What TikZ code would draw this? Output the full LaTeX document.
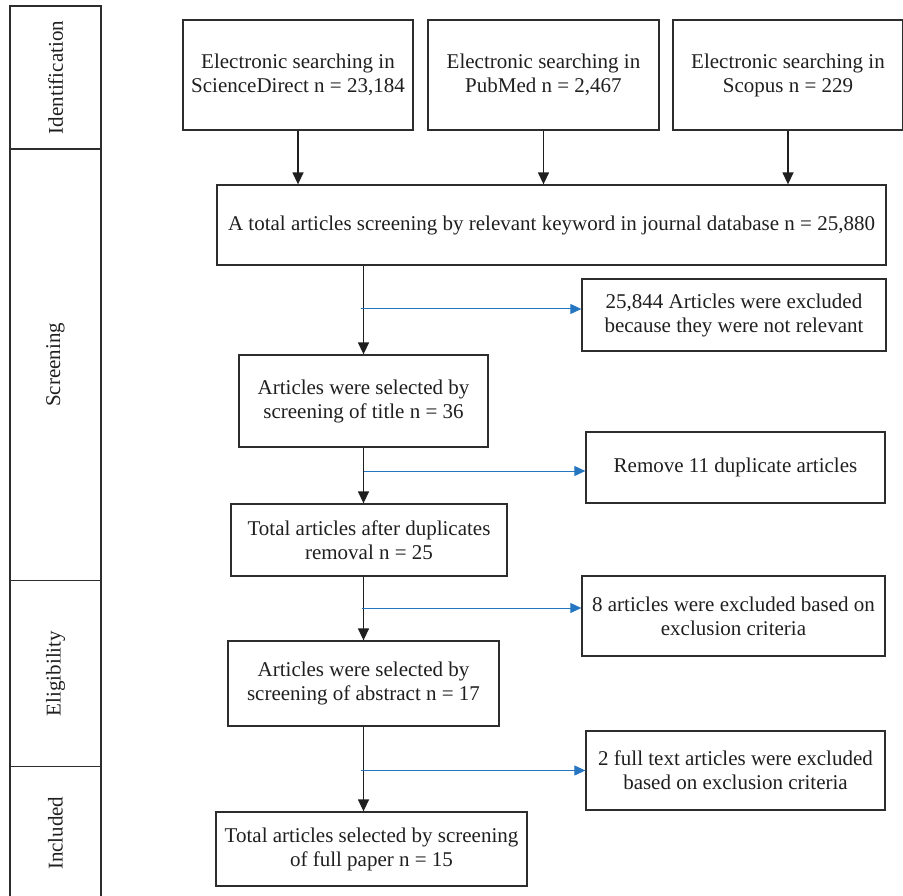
\documentclass[tikz,border=0pt]{standalone}
\usepackage{fontspec}
\setmainfont{Liberation Serif}
\usepackage{tikz}
\usetikzlibrary{arrows.meta}
\definecolor{flowblue}{RGB}{38,117,193}
\definecolor{boxgray}{RGB}{45,45,45}

\begin{document}
\begin{tikzpicture}[x=1pt,y=-1pt,
		box/.style={draw=boxgray,line width=1.3pt,align=center,inner sep=0pt,
			font=\fontsize{21}{24}\selectfont,text=black!88},
		stage/.style={draw=boxgray,line width=1.3pt,rotate=90,inner sep=0pt,
			minimum height=91pt,font=\fontsize{21}{24}\selectfont,text=black!88},
		down/.style={draw=black!88,line width=1.4pt,-{Triangle[width=11pt,length=12pt]}},
		side/.style={draw=flowblue,line width=1pt,-{Triangle[width=10pt,length=11pt]}}]
	\useasboundingbox (0,0) rectangle (903,896);
	
	% stages
	\node[stage,minimum width=143pt] (ident) at (55.5,77.5) {Identification};
	\node[stage,minimum width=431.5pt] (screen) at (55.5,364.75) {Screening};
	\node[stage,minimum width=186pt] (elig) at (55.5,673.5) {Eligibility};
	\node[stage,minimum width=133.5pt] (incl) at (55.5,833.25) {Included};
	
	% sources
	\node[box,minimum width=230pt,minimum height=110pt] (sd) at (298,75)
		{Electronic searching in\\ScienceDirect n = 23,184};
	\node[box,minimum width=231pt,minimum height=110pt] (pm) at (543.5,75)
		{Electronic searching in\\PubMed n = 2,467};
	\node[box,minimum width=230pt,minimum height=110pt] (sc) at (788,75)
		{Electronic searching in\\Scopus n = 229};
	
	\node[box,minimum width=669pt,minimum height=80pt] (total) at (551.5,225)
		{A total articles screening by relevant keyword in journal database n = 25,880};
	\node[box,minimum width=249pt,minimum height=92pt] (title) at (363.5,401)
		{Articles were selected by\\screening of title n = 36};
	\node[box,minimum width=276pt,minimum height=72pt] (dup) at (369,540)
		{Total articles after duplicates\\removal n = 25};
	\node[box,minimum width=271pt,minimum height=85pt] (abstract) at (363.5,683.5)
		{Articles were selected by\\screening of abstract n = 17};
	\node[box,minimum width=311pt,minimum height=74pt] (final) at (371.5,849)
		{Total articles selected by screening\\of full paper n = 15};
	
	% excluded
	\node[box,minimum width=304pt,minimum height=72pt] (excl1) at (734,315)
		{25,844 Articles were excluded\\because they were not relevant};
	\node[box,minimum width=299pt,minimum height=71pt] (remove) at (735.5,467.5)
		{Remove 11 duplicate articles};
	\node[box,minimum width=303pt,minimum height=80pt] (excl3) at (733.5,616)
		{8 articles were excluded based on\\exclusion criteria};
	\node[box,minimum width=299pt,minimum height=79pt] (excl4) at (735.5,770.5)
		{2 full text articles were excluded\\based on exclusion criteria};
	
	\draw[down] (sd.south) -- (sd.south |- total.north);
	\draw[down] (pm.south) -- (pm.south |- total.north);
	\draw[down] (sc.south) -- (sc.south |- total.north);
	\draw[down] (total.south -| title.north) -- (title.north);
	\draw[down] (title.south) -- (title.south |- dup.north);
	\draw[down] (dup.south -| abstract.north) -- (abstract.north);
	\draw[down] (abstract.south) -- (abstract.south |- final.north);
	
	\draw[side] ([xshift=-3pt,yshift=6pt]title.north |- excl1.west) -- ([yshift=6pt]excl1.west);
	\draw[side] ([yshift=-3.5pt]title.south |- remove.west) -- ([yshift=-3.5pt]remove.west);
	\draw[side] ([xshift=-2pt,yshift=8pt]abstract.north |- excl3.west) -- ([yshift=8pt]excl3.west);
	\draw[side] ([xshift=-3pt]abstract.south |- excl4.west) -- (excl4.west);
\end{tikzpicture}
\end{document}
